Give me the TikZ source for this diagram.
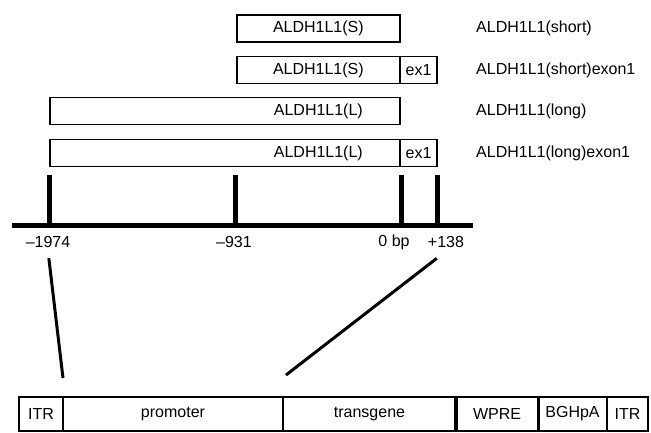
\documentclass[tikz,border=0pt]{standalone}
\usepackage{fontspec}
\setmainfont{Liberation Sans}
\usepackage{tikz}
\usetikzlibrary{positioning, calc}

\begin{document}
\begin{tikzpicture}[x=1pt, y=-1pt,
    every node/.style={font=\fontsize{16}{19}\selectfont},
    gene/.style={draw, line width=1.6pt, minimum height=26.7pt, inner sep=0pt, outer sep=0pt},
    exonbox/.style={gene, minimum width=37pt, anchor=west},
    genename/.style={anchor=west, inner xsep=0pt},
    tick/.style={line width=5pt},
    link/.style={line width=3pt},
    part/.style={draw, line width=2pt, minimum height=33.5pt, inner sep=0pt, outer sep=0pt, anchor=west}]
      \useasboundingbox (0, 0) rectangle (651, 432);

      % constructs
      \node[gene, minimum width=163.3pt] (shortS) at (318.35, 28.35) {ALDH1L1(S)};
      \node[gene, minimum width=163.3pt] (shortE) at (318.35, 70) {ALDH1L1(S)};
      \node[exonbox] (shortEx) at (shortE.east) {ex1};
      \node[gene, minimum width=350pt] (longL) at (225, 111) {};
      \node (longLtxt) at (318.35, 111) {ALDH1L1(L)};
      \node[gene, minimum width=350pt] (longE) at (225, 153) {};
      \node (longEtxt) at (318.35, 153) {ALDH1L1(L)};
      \node[exonbox] (longEx) at (longE.east) {ex1};

      \node[genename] (nameS) at (476, 28.35) {ALDH1L1(short)};
      \node[genename] (nameSE) at (476, 70) {ALDH1L1(short)exon1};
      \node[genename] (nameL) at (476, 111) {ALDH1L1(long)};
      \node[genename] (nameLE) at (476, 153) {ALDH1L1(long)exon1};

      % axis
      \draw[tick] (12, 225) -- (473, 225);
      \foreach \x in {49.5, 235, 401, 437}
        \draw[tick] (\x, 175) -- (\x, 225);
      \node (m1974) at (48, 242) {--1974};
      \node (m931) at (234, 242) {--931};
      \node (zero) at (394, 242) {0 bp};
      \node (p138) at (446, 242) {+138};

      % vector
      \node[part, minimum width=44pt] (itrA) at (19, 413.75) {ITR};
      \node[part, minimum width=220pt] (prom) at (itrA.east) {promoter};
      \node[part, minimum width=173pt] (trans) at (prom.east) {transgene};
      \node[part, minimum width=82pt] (wpre) at (trans.east) {WPRE};
      \node[part, minimum width=69pt] (bgh) at (wpre.east) {BGHpA};
      \node[part, minimum width=41pt] (itrB) at (bgh.east) {ITR};
      \draw[line width=3.5pt] (wpre.north west) -- (wpre.south west);
      \draw[line width=3pt] (bgh.north west) -- (bgh.south west);

      \coordinate (endL) at (63, 378);
      \coordinate (endR) at (286, 375);
      \draw[link, shorten <=7pt] (m1974.south) -- (endL);
      \draw[link, shorten <=11.7pt] (p138.south) -- (endR);
\end{tikzpicture}
\end{document}
